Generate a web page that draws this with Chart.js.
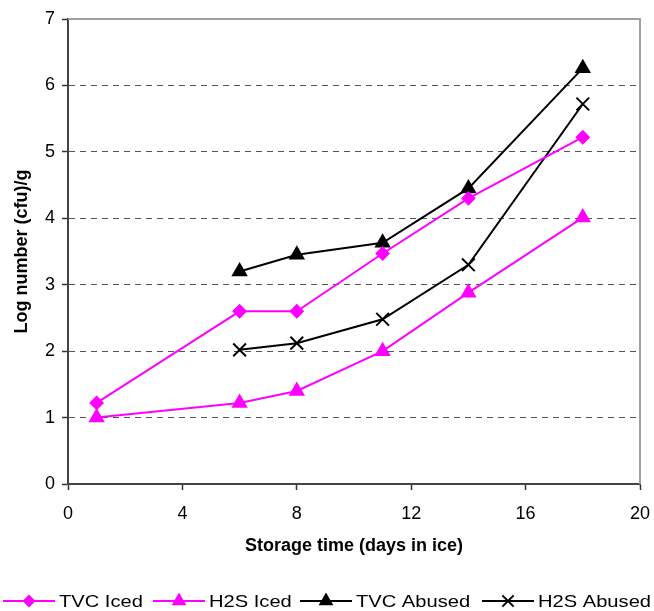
<!DOCTYPE html>
<html>
<head>
<meta charset="utf-8">
<script src="https://cdn.jsdelivr.net/npm/chart.js@4"></script>
<style>
    body { margin: 0; background: #fff; }
    canvas { display: block; }
</style>
</head>
<body>
<canvas id="chart" width="654" height="611"></canvas>
<script>
// storage days for each series
const daysIced = [1, 6, 8, 11, 14, 18];
const daysAbused = [6, 8, 11, 14, 18];

const tvcIced = [1.22, 2.6, 2.6, 3.47, 4.3, 5.22];
const h2sIced = [1.0, 1.22, 1.4, 2.0, 2.88, 4.01];
const tvcAbused = [3.2, 3.45, 3.63, 4.45, 6.26];
const h2sAbused = [2.02, 2.12, 2.48, 3.3, 5.72];

const seriesNames = ['TVC Iced', 'H2S Iced', 'TVC Abused', 'H2S Abused'];

const toPoints = (xs, ys) => xs.map((x, i) => ({ x: x, y: ys[i] }));

const magenta = '#ff00ff';
const black = '#000000';

const datasets = [
    { label: seriesNames[0], data: toPoints(daysIced, tvcIced), borderColor: magenta, backgroundColor: magenta, pointStyle: 'rectRot', pointRadius: 6, legendRadius: 5 },
    { label: seriesNames[1], data: toPoints(daysIced, h2sIced), borderColor: magenta, backgroundColor: magenta, pointStyle: 'triangle', pointRadius: 7.5, legendRadius: 6.5 },
    { label: seriesNames[2], data: toPoints(daysAbused, tvcAbused), borderColor: black, backgroundColor: black, pointStyle: 'triangle', pointRadius: 7.5, legendRadius: 6.5 },
    { label: seriesNames[3], data: toPoints(daysAbused, h2sAbused), borderColor: black, backgroundColor: black, pointStyle: 'crossRot', pointRadius: 9, legendRadius: 8 }
].map((d) => Object.assign(d, { borderWidth: 2, pointBorderWidth: 2, tension: 0, clip: false }));

const fontFamily = "'Liberation Sans', Arial, sans-serif";

// frame on top/right + legend at the bottom
const framePlugin = {
    id: 'frameAndLegend',
    afterDraw(chart) {
        const ctx = chart.ctx;
        const a = chart.chartArea;
        ctx.save();
        ctx.strokeStyle = '#a0a0a0';
        ctx.lineWidth = 2;
        ctx.beginPath();
        ctx.moveTo(a.left, a.top);
        ctx.lineTo(a.right, a.top);
        ctx.lineTo(a.right, a.bottom);
        ctx.stroke();

        const y = 601;
        const starts = [3, 153, 300, 482];
        chart.data.datasets.forEach((ds, i) => {
            const x0 = starts[i];
            ctx.strokeStyle = ds.borderColor;
            ctx.lineWidth = 2;
            ctx.beginPath();
            ctx.moveTo(x0, y);
            ctx.lineTo(x0 + 52, y);
            ctx.stroke();
            ctx.fillStyle = ds.backgroundColor;
            ctx.strokeStyle = ds.borderColor;
            Chart.helpers.drawPoint(ctx, { pointStyle: ds.pointStyle, radius: ds.legendRadius, borderWidth: 2, rotation: 0 }, x0 + 26, y);

            // the original legend font is wide, so stretch it a bit
            ctx.save();
            ctx.translate(x0 + 56, y + 1);
            ctx.scale(1.22, 1);
            ctx.font = '16.5px ' + fontFamily;
            ctx.textBaseline = 'middle';
            ctx.fillStyle = '#000';
            ctx.fillText(ds.label, 0, 0);
            ctx.restore();
        });
        ctx.restore();
    }
};

new Chart(document.getElementById('chart'), {
    type: 'line',
    data: { datasets: datasets },
    options: {
        responsive: false,
        animation: false,
        layout: { padding: { left: 11, right: 14, top: 19, bottom: 54 } },
        plugins: { legend: { display: false }, tooltip: { enabled: false } },
        scales: {
            x: {
                type: 'linear',
                min: 0,
                max: 20,
                ticks: { stepSize: 4, color: '#000', padding: 13, font: { family: fontFamily, size: 18 } },
                grid: { drawOnChartArea: false, tickLength: 6, tickColor: '#333', tickWidth: 1.5 },
                border: { color: '#444', width: 2 },
                title: { display: true, text: 'Storage time (days in ice)', color: '#000', padding: 0, font: { family: fontFamily, size: 18, weight: 'bold' } },
                afterFit: (scale) => {
                    scale.height = 73;
                    scale.paddingLeft = 0;
                    scale.paddingRight = 0;
                }
            },
            y: {
                min: 0,
                max: 7,
                ticks: { stepSize: 1, color: '#000', padding: 7, font: { family: fontFamily, size: 18 } },
                grid: {
                    color: (c) => (c.tick && (c.tick.value === 0 || c.tick.value === 7) ? 'rgba(0,0,0,0)' : '#555'),
                    lineWidth: 1,
                    tickLength: 6,
                    tickColor: '#333',
                    tickWidth: 1.5
                },
                border: { color: '#444', width: 2, dash: [6, 5] },
                title: { display: true, text: 'Log number (cfu)/g', color: '#000', padding: 0, font: { family: fontFamily, size: 18, weight: 'bold' } },
                afterFit: (scale) => {
                    scale.width = 57;
                    scale.paddingTop = 0;
                    scale.paddingBottom = 0;
                }
            }
        }
    },
    plugins: [framePlugin]
});
</script>
</body>
</html>
